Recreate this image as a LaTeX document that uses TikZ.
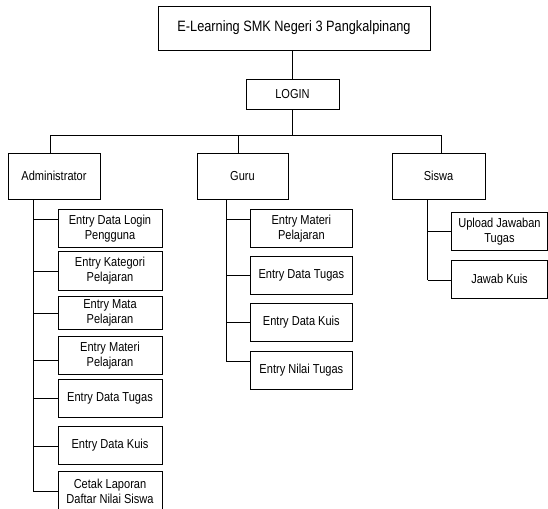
\documentclass[tikz,border=0pt]{standalone}
\usepackage{fontspec}
\setmainfont{Liberation Sans}[FakeStretch=0.85]
\newcommand{\bx}[6]{\node[bx, minimum width={(#4-#2)*0.75pt}, minimum height={(#5-#3)*0.75pt}] (#1) at ({(#2+#4)/2},{(#3+#5)/2}) {#6};}
\begin{document}
\begin{tikzpicture}[x=0.75pt,y=-0.75pt,
  bx/.style={draw=black, line width=0.6pt, rectangle, inner sep=1pt, align=center,
    font=\fontsize{9.75pt}{11.4pt}\selectfont},
  ln/.style={draw=black, line width=0.6pt}]
\useasboundingbox (0,0) rectangle (548,508);
% boxes
\bx{top}{158}{6}{430}{50}{\fontsize{11.25pt}{13pt}\selectfont E-Learning SMK Negeri 3 Pangkalpinang}
\bx{login}{246}{79}{339}{109}{LOGIN}
\bx{admin}{8}{153}{100}{199}{Administrator}
\bx{guru}{197}{153}{288}{199}{Guru}
\bx{siswa}{392}{153}{485}{199}{Siswa}
% admin children
\bx{a1}{58}{209.3}{162}{247.3}{Entry Data Login\\Pengguna}
\bx{a2}{58}{251.7}{162}{290}{Entry Kategori\\Pelajaran}
\bx{a3}{58}{296.7}{162}{329.3}{Entry Mata\\Pelajaran}
\bx{a4}{58}{336.7}{162}{374.3}{Entry Materi\\Pelajaran}
\bx{a5}{58}{379.3}{162}{417.3}{Entry Data Tugas}
\bx{a6}{58}{426}{162}{464}{Entry Data Kuis}
\bx{a7}{58}{471}{162}{512}{Cetak Laporan\\Daftar Nilai Siswa}
% guru children
\bx{g1}{250}{209.3}{352.7}{247.3}{Entry Materi\\Pelajaran}
\bx{g2}{250}{256.7}{352.7}{294.3}{Entry Data Tugas}
\bx{g3}{250}{303.3}{352.7}{341.7}{Entry Data Kuis}
\bx{g4}{250}{351}{352.7}{389}{Entry Nilai Tugas}
% siswa children
\bx{s1}{451.5}{212.7}{547.5}{250.5}{Upload Jawaban\\Tugas}
\bx{s2}{451.5}{260}{547.5}{298.3}{Jawab Kuis}
% helper coordinates
\coordinate (bus) at (292,135);
\coordinate (da) at (50,135);
\coordinate (dg) at (238,135);
\coordinate (ds) at (441.7,135);
\coordinate (sa) at (33,0);
\coordinate (sg) at (226,0);
\coordinate (ss) at (427.7,0);
\foreach \n/\y in {ya1/219,ya2/271.7,ya3/313.3,ya4/360,ya5/398.3,ya6/446,ya7/491.7,
  yg1/219,yg2/275,yg3/322.3,yg4/361.7,ys1/231.7,ys2/280}
  \coordinate (\n) at (0,\y);
% connectors
\draw[ln] (bus |- top.south) -- (bus |- login.north);
\draw[ln] (bus |- login.south) -- (bus);
\draw[ln] (da) -- (ds);
\draw[ln] (da) -- (da |- admin.north);
\draw[ln] (dg) -- (dg |- guru.north);
\draw[ln] (ds) -- (ds |- siswa.north);
% admin spine
\draw[ln] (sa |- admin.south) -- (sa |- ya7);
\foreach \i in {1,...,7}
  \draw[ln] (sa |- ya\i) -- (a\i.west |- ya\i);
% guru spine
\draw[ln] (sg |- guru.south) -- (sg |- yg4);
\foreach \i in {1,...,4}
  \draw[ln] (sg |- yg\i) -- (g\i.west |- yg\i);
% siswa spine
\draw[ln] (ss |- siswa.south) -- (ss |- ys2);
\foreach \i in {1,2}
  \draw[ln] (ss |- ys\i) -- (s\i.west |- ys\i);
\end{tikzpicture}
\end{document}
